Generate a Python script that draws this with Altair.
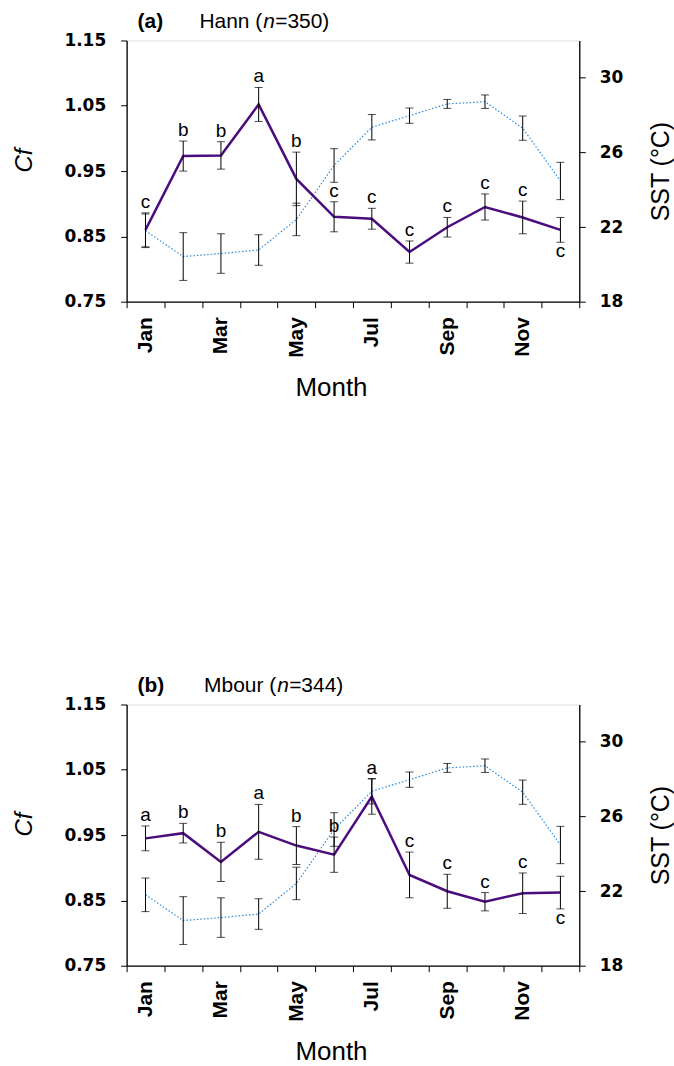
import altair as alt
import pandas as pd

# ---------------- data ----------------
months = ["Jan", "Feb", "Mar", "Apr", "May", "Jun",
          "Jul", "Aug", "Sep", "Oct", "Nov", "Dec"]
month_idx = list(range(1, 13))

# sea surface temperature (same in both panels)
sst_mean = [21.8, 20.42, 20.58, 20.77, 22.41, 25.3, 27.35, 27.97, 28.6, 28.72, 27.3, 24.47]
sst_err = [0.9, 1.28, 1.06, 0.82, 0.87, 0.9, 0.68, 0.41, 0.24, 0.36, 0.65, 1.0]

# (a) Hann
hann_cf = [0.860, 0.973, 0.974, 1.052, 0.938, 0.880, 0.877, 0.826, 0.864, 0.895, 0.879, 0.860]
hann_err = [0.026, 0.023, 0.021, 0.026, 0.041, 0.023, 0.016, 0.017, 0.015, 0.020, 0.025, 0.019]
hann_letters = ["c", "b", "b", "a", "b", "c", "c", "c", "c", "c", "c", "c"]
hann_pos = ["above"] * 11 + ["below"]

# (b) Mbour
mbour_cf = [0.945, 0.953, 0.909, 0.955, 0.934, 0.920, 1.009, 0.889, 0.864, 0.848, 0.861, 0.862]
mbour_err = [0.019, 0.015, 0.030, 0.042, 0.029, 0.027, 0.027, 0.035, 0.026, 0.014, 0.031, 0.025]
mbour_letters = ["a", "b", "b", "a", "b", "b", "a", "c", "c", "c", "c", "c"]
mbour_pos = ["above"] * 11 + ["below"]

cf_ticks = [0.75, 0.85, 0.95, 1.05, 1.15]
sst_ticks = [18, 22, 26, 30]

# ---------------- style ----------------
W, H = 454, 262
PURPLE = "#4b0c7e"
BLUE = "#2a8ae0"
INK = "#000000"
SANS = "Liberation Sans"
TICKFONT = "DejaVu Sans"

tick_vals = [i + 0.5 for i in range(13)]
months_js = "[" + ",".join("'%s'" % m for m in months) + "]"
label_expr = ("(datum.value - 0.5) % 2 == 0 && datum.value < 12 ? "
              + months_js + "[datum.value - 0.5] : ''")

x_scale = alt.Scale(domain=[0.5, 12.5], nice=False, zero=False)
x_axis = alt.Axis(values=tick_vals, labelExpr=label_expr, labelAngle=270,
                  labelOffset=W / 24, labelPadding=9, labelFont=SANS,
                  labelFontWeight="bold", labelFontSize=21, labelColor="black",
                  labelOverlap=False, labelFlush=False, labelBound=False,
                  tickSize=6, tickColor=INK, tickWidth=1, domainColor=INK,
                  domainWidth=1.3, title="Month", titleFont=SANS, titleFontSize=26,
                  titleFontWeight="normal", titleColor="black", titleX=205, titleY=94,
                  titleAlign="center", titleBaseline="alphabetic", grid=False)

cf_scale = alt.Scale(domain=[0.75, 1.15], nice=False, zero=False)
cf_axis = alt.Axis(orient="left", values=cf_ticks, format=".2f", labelFont=TICKFONT,
                   labelFontWeight="bold", labelFontSize=17, labelColor="black",
                   labelPadding=15, tickSize=6, tickColor=INK, domainColor=INK,
                   domainWidth=1.3, title="Cf", titleFont=SANS, titleFontStyle="italic",
                   titleFontWeight="normal", titleFontSize=24, titleColor="black",
                   titleAngle=270, titleX=-95, titleY=120, titleAlign="center",
                   titleBaseline="alphabetic", grid=False)

sst_scale = alt.Scale(domain=[18, 32], nice=False, zero=False)
sst_axis = alt.Axis(orient="right", values=sst_ticks, labelFont=TICKFONT,
                    labelFontWeight="bold", labelFontSize=17, labelColor="black",
                    labelPadding=14, tickSize=6, tickColor=INK, domainColor=INK,
                    domainWidth=1.3, title="SST (°C)", titleFont=SANS,
                    titleFontWeight="normal", titleFontSize=25, titleColor="black",
                    titleAngle=270, titleX=89, titleY=131, titleAlign="center",
                    titleBaseline="alphabetic", grid=False)


def panel(cf, err, letters, pos, tag, site, nval, xs):
    df = pd.DataFrame({
        "m": month_idx, "month": months,
        "sst": sst_mean,
        "sst_lo": [a - b for a, b in zip(sst_mean, sst_err)],
        "sst_hi": [a + b for a, b in zip(sst_mean, sst_err)],
        "cf": cf,
        "lo": [a - b for a, b in zip(cf, err)],
        "hi": [a + b for a, b in zip(cf, err)],
        "letter": letters, "pos": pos,
    })
    base = alt.Chart(df)
    xa = alt.X("m:Q", scale=x_scale, axis=x_axis)

    def ys(f):
        return alt.Y(f, scale=sst_scale, axis=sst_axis)

    def yc(f):
        return alt.Y(f, scale=cf_scale, axis=cf_axis)

    sst_line = base.mark_line(color=BLUE, strokeWidth=1.2, strokeDash=[1.5, 2]).encode(
        x=xa, y=ys("sst:Q"))
    sst_bar = base.mark_rule(color=INK, strokeWidth=1).encode(
        x=xa, y=ys("sst_lo:Q"), y2="sst_hi:Q")
    sst_cap_lo = base.mark_tick(orient="horizontal", color=INK, size=8, thickness=1).encode(
        x=xa, y=ys("sst_lo:Q"))
    sst_cap_hi = base.mark_tick(orient="horizontal", color=INK, size=8, thickness=1).encode(
        x=xa, y=ys("sst_hi:Q"))
    sst_layer = alt.layer(sst_line, sst_bar, sst_cap_lo, sst_cap_hi)

    cf_line = base.mark_line(color=PURPLE, strokeWidth=2.5).encode(
        x=xa, y=yc("cf:Q"))
    cf_bar = base.mark_rule(color=INK, strokeWidth=1).encode(
        x=xa, y=yc("lo:Q"), y2="hi:Q")
    cf_cap_lo = base.mark_tick(orient="horizontal", color=INK, size=8, thickness=1).encode(
        x=xa, y=yc("lo:Q"))
    cf_cap_hi = base.mark_tick(orient="horizontal", color=INK, size=8, thickness=1).encode(
        x=xa, y=yc("hi:Q"))
    lab_above = base.transform_filter("datum.pos == 'above'").mark_text(
        font=SANS, fontSize=19, color="black", baseline="alphabetic", dy=-5).encode(
        x=xa, y=yc("hi:Q"), text="letter:N")
    lab_below = base.transform_filter("datum.pos == 'below'").mark_text(
        font=SANS, fontSize=19, color="black", baseline="alphabetic", dy=15).encode(
        x=xa, y=yc("lo:Q"), text="letter:N")

    tdf = alt.Chart(pd.DataFrame({"k": [0]}))
    t_tag = tdf.mark_text(font=SANS, fontSize=21, fontWeight="bold", color="black",
                          align="left", baseline="alphabetic").encode(
        x=alt.value(11), y=alt.value(-13), text=alt.value(tag))
    t_site = tdf.mark_text(font=SANS, fontSize=21, color="black",
                           align="right", baseline="alphabetic").encode(
        x=alt.value(xs), y=alt.value(-13), text=alt.value(site))
    t_n = tdf.mark_text(font=SANS, fontSize=21, fontStyle="italic", color="black",
                        align="left", baseline="alphabetic").encode(
        x=alt.value(xs + 1), y=alt.value(-13), text=alt.value("n"))
    t_val = tdf.mark_text(font=SANS, fontSize=21, color="black",
                          align="left", baseline="alphabetic").encode(
        x=alt.value(xs + 13), y=alt.value(-13), text=alt.value(nval))

    cf_layer = alt.layer(cf_line, cf_bar, cf_cap_lo, cf_cap_hi, lab_above, lab_below,
                         t_tag, t_site, t_n, t_val)
    return alt.layer(sst_layer, cf_layer).resolve_scale(y="independent").properties(
        width=W, height=H)


pa = panel(hann_cf, hann_err, hann_letters, hann_pos, "(a)", "Hann (", "=350)", 136)
pb = panel(mbour_cf, mbour_err, mbour_letters, mbour_pos, "(b)", "Mbour (", "=344)", 150)

chart = alt.vconcat(pa, pb, spacing=273).properties(
    padding={"left": 12, "top": 8, "right": 0, "bottom": 0}
).configure_view(stroke="#7f7f7f", strokeWidth=1).configure(background="white")

chart.save("out.html", embed_options={"renderer": "svg", "actions": False})
